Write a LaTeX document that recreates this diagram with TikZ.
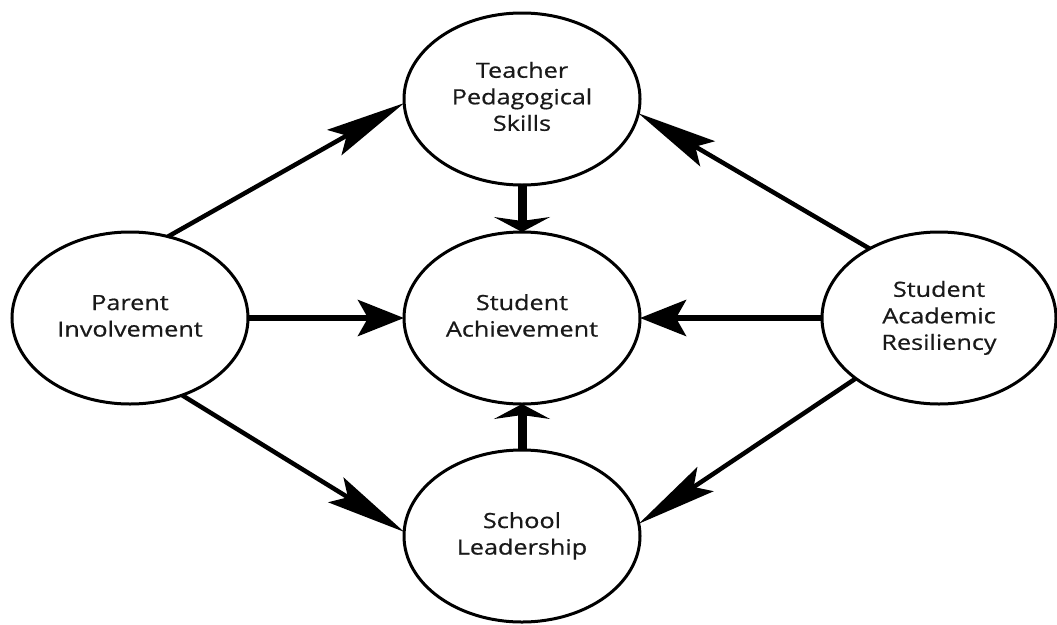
\documentclass[tikz,border=0pt]{standalone}
\usepackage{fontspec}
\setmainfont{Open Sans}[FakeBold=0.6]
\usepackage{graphicx}
\usetikzlibrary{shapes.geometric,arrows.meta}
\newcommand{\lbl}[1]{\scalebox{1.2}[1]{\begin{tabular}{@{}c@{}}#1\end{tabular}}}
\begin{document}
\begin{tikzpicture}[x=1pt,y=-1pt,
  bubble/.style={ellipse,draw,line width=3pt,minimum width=236pt,minimum height=172pt,
    inner sep=0pt,outer sep=0pt,font=\fontsize{21}{26.5}\selectfont,text=black!90},
  harrow/.style={line width=6pt,-{Stealth[length=46pt,width=36pt,inset=10pt]}},
  varrow/.style={line width=9pt,-{Stealth[length=15pt,width=56pt,inset=4pt]}},
  darrow/.style={line width=4.5pt,-{Stealth[length=80pt,width=29pt,inset=14pt]}}]
\useasboundingbox (0,0) rectangle (1057,624);
\node[bubble] (T) at (522,99) {\lbl{Teacher\\Pedagogical\\Skills}};
\node[bubble] (A) at (522,318) {\lbl{Student\\Achievement}};
\node[bubble] (P) at (130,318) {\lbl{Parent\\Involvement}};
\node[bubble,minimum width=234pt] (R) at (939,318) {\lbl{Student\\Academic\\Resiliency}};
\node[bubble] (S) at (522,536) {\lbl{School\\Leadership}};
\draw[darrow] (P.65.7) -- (T.182.4);
\draw[harrow] (P.east) -- (A.west);
\draw[varrow] (T.south) -- (A.north);
\draw[varrow] (S.north) -- (A.south);
\draw[darrow] (P.-56.6) -- (S.178);
\draw[darrow] (R.135.8) -- (T.353.4);
\draw[harrow] (R.west) -- (A.east);
\draw[darrow] (R.216.1) -- (S.6.7);
\end{tikzpicture}
\end{document}
